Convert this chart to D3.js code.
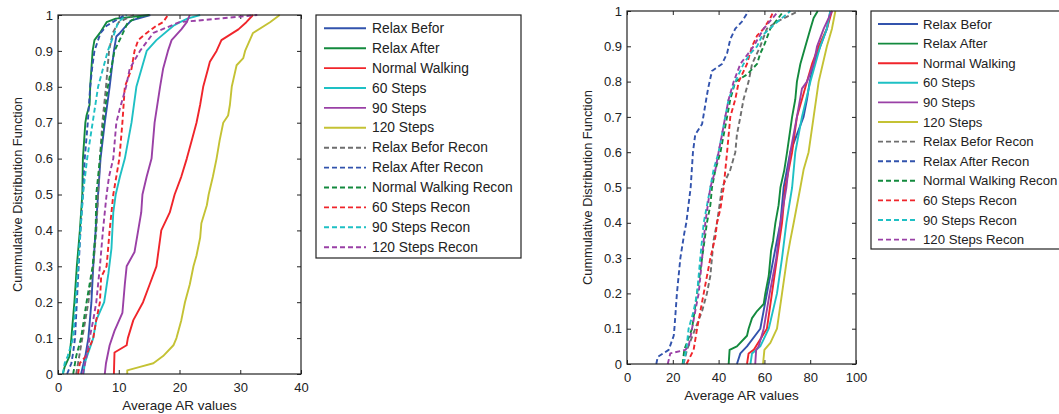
<!DOCTYPE html>
<html>
<head>
<meta charset="utf-8">
<script src="https://cdn.jsdelivr.net/npm/d3@7"></script>
<style>
  html, body { margin: 0; padding: 0; background: #fff; }
  svg { display: block; font-family: "Liberation Sans", Arial, sans-serif; }
  .tick text { font-size: 13px; fill: #222; }
  .tick line { stroke: #222; }
</style>
</head>
<body>
<svg id="fig" width="1059" height="414"></svg>
<script>
// Series names (legend order) and tick values
const seriesNames = [
  "Relax Befor", "Relax After", "Normal Walking", "60 Steps", "90 Steps", "120 Steps",
  "Relax Befor Recon", "Relax After Recon", "Normal Walking Recon",
  "60 Steps Recon", "90 Steps Recon", "120 Steps Recon"
];
const probTicks = [0, 0.1, 0.2, 0.3, 0.4, 0.5, 0.6, 0.7, 0.8, 0.9, 1];
const leftValueTicks = [0, 10, 20, 30, 40];
const rightValueTicks = [0, 20, 40, 60, 80, 100];

// Left panel: empirical CDFs, [average AR value, cumulative probability]
const leftRelaxBefor = [[3.8,0],[4.5,0.05],[5.0,0.1],[5.5,0.2],[5.8,0.3],[6.2,0.4],[6.6,0.5],[7.0,0.6],[7.7,0.7],[8.5,0.8],[9.2,0.9],[9.6,0.94],[10.2,0.95],[11.2,0.97],[12.1,0.985],[15.2,1]];
const leftRelaxAfter = [[0.8,0],[1.1,0.02],[1.9,0.05],[2.2,0.1],[2.7,0.2],[3.1,0.3],[3.6,0.4],[4.0,0.5],[4.1,0.6],[4.5,0.7],[4.7,0.72],[5.2,0.75],[5.3,0.8],[5.7,0.9],[6.0,0.93],[6.9,0.95],[8.0,0.98],[9.5,0.99],[15,1]];
const leftNormalWalking = [[9.2,0],[9.3,0.06],[11.3,0.08],[11.5,0.1],[12.4,0.15],[14.0,0.2],[15.1,0.25],[16.2,0.3],[16.6,0.35],[17.0,0.4],[18.4,0.45],[19.2,0.5],[20.3,0.55],[21.2,0.6],[22.0,0.65],[22.8,0.7],[23.4,0.75],[23.9,0.8],[24.7,0.85],[25.0,0.87],[26.1,0.9],[26.9,0.93],[29.7,0.96],[31.0,0.98],[32.1,1]];
const leftSteps60 = [[4.2,0],[4.4,0.03],[4.8,0.05],[5.8,0.1],[6.3,0.15],[7.6,0.2],[8.3,0.28],[8.8,0.35],[9.1,0.45],[9.5,0.5],[10.2,0.55],[11.0,0.6],[12.1,0.7],[12.9,0.8],[14.6,0.9],[16.2,0.93],[19.0,0.97],[20.1,0.98],[21.3,0.99],[23.4,1]];
const leftSteps90 = [[7.7,0],[7.9,0.03],[8.5,0.08],[9.3,0.12],[10.6,0.17],[11.0,0.25],[11.3,0.3],[12.6,0.34],[13.2,0.4],[13.7,0.45],[13.9,0.5],[14.6,0.55],[15.4,0.6],[15.9,0.7],[16.8,0.8],[17.3,0.85],[18.1,0.9],[18.7,0.93],[20.3,0.96],[21.2,0.98],[21.7,1]];
const leftSteps120 = [[11.4,0],[11.4,0.01],[13.5,0.02],[15.7,0.03],[17.3,0.05],[19.0,0.08],[19.5,0.1],[20.3,0.15],[20.9,0.2],[21.7,0.25],[22.3,0.3],[22.8,0.33],[23.4,0.38],[23.6,0.42],[24.5,0.47],[24.8,0.5],[25.5,0.55],[26.1,0.6],[26.6,0.65],[27.2,0.7],[28.0,0.72],[28.3,0.75],[28.6,0.8],[29.4,0.86],[30.5,0.88],[30.8,0.9],[32.1,0.95],[34.9,0.98],[36.5,1]];
const leftRelaxBeforRecon = [[3.0,0],[3.5,0.05],[4.0,0.1],[5.0,0.2],[5.8,0.3],[6.3,0.4],[6.6,0.5],[6.9,0.6],[7.3,0.7],[7.9,0.8],[8.4,0.9],[9.0,0.95],[10.0,0.98],[12.5,1]];
const leftRelaxAfterRecon = [[1.5,0],[2.2,0.03],[2.5,0.06],[2.8,0.1],[3.1,0.2],[3.4,0.3],[3.7,0.4],[4.1,0.5],[4.4,0.6],[4.9,0.7],[5.3,0.8],[5.6,0.85],[6.0,0.9],[7.0,0.95],[8.0,0.97],[11,1]];
const leftNormalWalkingRecon = [[2.5,0],[3.0,0.05],[3.8,0.1],[4.7,0.2],[5.7,0.3],[6.2,0.4],[6.3,0.5],[6.9,0.6],[7.5,0.7],[8.2,0.8],[9.3,0.9],[10.7,0.95],[11.5,0.98],[14.0,1]];
const leftSteps60Recon = [[3.3,0],[3.6,0.03],[4.6,0.05],[5.8,0.1],[6.3,0.15],[6.9,0.2],[7.1,0.27],[8.0,0.3],[8.5,0.4],[9.1,0.5],[10.1,0.6],[10.6,0.7],[11.0,0.8],[12.1,0.85],[12.6,0.9],[13.2,0.93],[14.6,0.95],[16.2,0.97],[17.3,0.98],[18.1,1]];
const leftSteps90Recon = [[0.8,0],[1.1,0.03],[1.6,0.05],[2.5,0.1],[2.9,0.2],[3.3,0.3],[3.7,0.4],[4.1,0.5],[4.8,0.6],[5.7,0.7],[6.6,0.8],[7.4,0.85],[8.2,0.9],[9.3,0.95],[9.9,0.98],[11.3,1]];
const leftSteps120Recon = [[4.1,0],[4.7,0.05],[5.2,0.1],[5.8,0.15],[6.3,0.2],[6.9,0.3],[7.4,0.4],[8.0,0.5],[8.4,0.55],[9.1,0.6],[9.6,0.7],[10.2,0.74],[11.2,0.8],[11.8,0.85],[13.5,0.9],[15.7,0.95],[20.0,0.98],[26.5,0.99],[32.8,1]];

// Right panel: empirical CDFs, [average AR value, cumulative probability]
const rightRelaxBefor = [[48.0,0],[49.5,0.03],[52.4,0.05],[58.2,0.1],[61.1,0.2],[64.0,0.3],[67.0,0.4],[68.4,0.5],[71.3,0.6],[77.1,0.7],[78.6,0.75],[79.8,0.8],[81.5,0.85],[84.4,0.9],[87.3,0.95],[88.8,1]];
const rightRelaxAfter = [[44.4,0],[44.8,0.04],[48.0,0.05],[52.4,0.08],[53.1,0.1],[54.6,0.13],[56.8,0.15],[59.7,0.17],[60.4,0.2],[61.9,0.25],[62.9,0.32],[63.8,0.35],[64.8,0.4],[66.2,0.45],[67.0,0.5],[68.7,0.55],[69.9,0.6],[72.1,0.7],[73.5,0.75],[74.2,0.8],[75.7,0.85],[77.9,0.9],[80.1,0.95],[81.5,0.98],[83.3,1]];
const rightNormalWalking = [[52.4,0],[53.1,0.03],[55.3,0.04],[61.1,0.1],[63.3,0.2],[65.5,0.3],[67.7,0.4],[69.1,0.5],[72.1,0.6],[74.2,0.7],[78.6,0.8],[80.8,0.85],[83.7,0.9],[87.3,0.95],[89.5,1]];
const rightSteps60 = [[53.9,0],[54.6,0.03],[58.2,0.05],[61.9,0.1],[65.5,0.2],[67.7,0.3],[69.6,0.4],[72.1,0.5],[73.5,0.6],[76.4,0.7],[80.1,0.8],[84.4,0.9],[87.3,0.95],[88.8,1]];
const rightSteps90 = [[56.0,0],[56.4,0.04],[57.5,0.05],[59.7,0.1],[62.3,0.2],[65.2,0.3],[67.0,0.4],[69.6,0.5],[71.3,0.6],[74.2,0.7],[76.4,0.78],[78.6,0.8],[81.5,0.85],[83.0,0.9],[85.9,0.95],[89.5,1]];
const rightSteps120 = [[59.4,0],[60.0,0.04],[62.6,0.06],[65.5,0.1],[67.7,0.2],[69.9,0.3],[71.3,0.35],[72.8,0.4],[75.7,0.5],[77.1,0.55],[79.3,0.6],[81.5,0.7],[83.7,0.8],[87.3,0.9],[89.5,0.95],[91.0,1]];
const rightRelaxBeforRecon = [[24.7,0],[26.2,0.04],[29.8,0.1],[32.8,0.15],[34.9,0.2],[36.4,0.25],[37.1,0.3],[37.8,0.35],[39.3,0.4],[41.5,0.5],[45.1,0.55],[47.3,0.6],[48.0,0.65],[49.5,0.7],[50.9,0.75],[53.1,0.8],[54.6,0.85],[58.2,0.9],[61.1,0.95],[65.5,0.97],[75.0,1]];
const rightRelaxAfterRecon = [[12.8,0],[13.4,0.02],[18.2,0.04],[20.4,0.08],[20.7,0.1],[21.8,0.2],[23.3,0.3],[25.0,0.37],[25.9,0.4],[27.8,0.5],[28.8,0.6],[29.8,0.65],[32.8,0.68],[34.6,0.75],[35.4,0.78],[37.1,0.83],[41.5,0.85],[43.7,0.88],[45.1,0.92],[47.3,0.95],[50.2,0.97],[53.1,1]];
const rightNormalWalkingRecon = [[24.3,0],[25.0,0.04],[28.4,0.1],[30.6,0.2],[32.8,0.3],[34.9,0.4],[36.4,0.45],[37.1,0.5],[38.6,0.55],[40.8,0.6],[43.7,0.7],[45.1,0.75],[47.3,0.8],[52.4,0.82],[56.8,0.85],[58.2,0.88],[59.7,0.9],[62.6,0.95],[68.4,1]];
const rightSteps60Recon = [[26.0,0],[29.1,0.04],[30.6,0.1],[33.5,0.2],[36.4,0.3],[38.6,0.36],[39.3,0.4],[40.8,0.44],[42.2,0.5],[43.7,0.6],[45.1,0.7],[47.3,0.75],[48.8,0.8],[52.4,0.85],[54.6,0.9],[56.8,0.93],[59.7,0.95],[62.6,0.98],[64.0,1]];
const rightSteps90Recon = [[24.5,0],[25.9,0.04],[26.9,0.1],[29.1,0.15],[30.6,0.2],[32.0,0.3],[33.5,0.4],[36.4,0.5],[37.8,0.55],[40.0,0.6],[42.9,0.7],[44.4,0.75],[47.3,0.8],[50.9,0.85],[53.9,0.88],[56.8,0.9],[59.0,0.93],[64.0,0.96],[71.3,1]];
const rightSteps120Recon = [[17.8,0],[18.9,0.03],[25.5,0.04],[26.9,0.05],[28.4,0.1],[29.8,0.15],[31.3,0.2],[32.8,0.3],[34.2,0.4],[36.4,0.5],[38.6,0.55],[40.0,0.6],[41.5,0.65],[42.9,0.7],[44.4,0.75],[46.6,0.8],[49.5,0.85],[55.3,0.9],[59.7,0.95],[66.2,1]];

const leftCurves = [leftRelaxBefor, leftRelaxAfter, leftNormalWalking, leftSteps60, leftSteps90, leftSteps120,
  leftRelaxBeforRecon, leftRelaxAfterRecon, leftNormalWalkingRecon, leftSteps60Recon, leftSteps90Recon, leftSteps120Recon];
const rightCurves = [rightRelaxBefor, rightRelaxAfter, rightNormalWalking, rightSteps60, rightSteps90, rightSteps120,
  rightRelaxBeforRecon, rightRelaxAfterRecon, rightNormalWalkingRecon, rightSteps60Recon, rightSteps90Recon, rightSteps120Recon];

// Line styles per series
const seriesColors = ["#3253ad", "#138a3e", "#f0252b", "#1ec0c4", "#9a40a6", "#c4c234",
  "#6e6e6e", "#3253ad", "#138a3e", "#f0252b", "#1ec0c4", "#9a40a6"];
const seriesDashed = [false, false, false, false, false, false, true, true, true, true, true, true];

const svg = d3.select("#fig");

function drawPanel(opts) {
  const { curves, xDomain, xTicks, left, right, top, bottom, legend } = opts;
  const x = d3.scaleLinear().domain(xDomain).range([left, right]);
  const y = d3.scaleLinear().domain([0, 1]).range([bottom, top]);
  const g = svg.append("g");

  const fmt = d => String(+d.toFixed(2));

  // bottom / left axes with inward ticks
  g.append("g").attr("transform", `translate(0,${bottom})`)
    .call(d3.axisBottom(x).tickValues(xTicks).tickSize(-4).tickSizeOuter(0).tickPadding(9).tickFormat(fmt))
    .call(a => a.select(".domain").remove());
  g.append("g").attr("transform", `translate(${left},0)`)
    .call(d3.axisLeft(y).tickValues(probTicks).tickSize(-4).tickSizeOuter(0).tickPadding(5).tickFormat(fmt))
    .call(a => a.select(".domain").remove());
  // top / right axes: ticks only
  g.append("g").attr("transform", `translate(0,${top})`)
    .call(d3.axisTop(x).tickValues(xTicks).tickSize(-4).tickSizeOuter(0).tickFormat(""))
    .call(a => a.select(".domain").remove());
  g.append("g").attr("transform", `translate(${right},0)`)
    .call(d3.axisRight(y).tickValues(probTicks).tickSize(-4).tickSizeOuter(0).tickFormat(""))
    .call(a => a.select(".domain").remove());

  g.selectAll(".tick text").attr("font-family", null).attr("font-size", null);

  // CDF curves
  const line = d3.line().x(d => x(d[0])).y(d => y(d[1]));
  g.append("g").selectAll("path").data(curves).join("path")
    .attr("d", line)
    .attr("fill", "none")
    .attr("stroke", (d, i) => seriesColors[i])
    .attr("stroke-width", 1.9)
    .attr("stroke-dasharray", (d, i) => seriesDashed[i] ? "5,3" : null)
    .attr("stroke-linejoin", "round");

  // axes box
  g.append("rect")
    .attr("x", left).attr("y", top)
    .attr("width", right - left).attr("height", bottom - top)
    .attr("fill", "none").attr("stroke", "#222").attr("stroke-width", 1.2);

  // axis titles
  g.append("text")
    .attr("x", (left + right) / 2).attr("y", opts.xLabelY)
    .attr("text-anchor", "middle").attr("font-size", 13.5).attr("fill", "#222")
    .text("Average AR values");
  g.append("text")
    .attr("transform", `translate(${opts.yLabelX},${(top + bottom) / 2}) rotate(-90)`)
    .attr("text-anchor", "middle").attr("font-size", 12.8).attr("fill", "#222")
    .text("Cummulative Distribution Function");

  // legend
  const lg = g.append("g");
  lg.append("rect")
    .attr("x", legend.x0).attr("y", legend.y0)
    .attr("width", legend.x1 - legend.x0).attr("height", legend.y1 - legend.y0)
    .attr("fill", "#fff").attr("stroke", "#222").attr("stroke-width", 1.2);
  const rows = lg.selectAll("g.row").data(seriesNames).join("g")
    .attr("transform", (d, i) => `translate(0,${legend.firstY + i * legend.step})`);
  rows.append("line")
    .attr("x1", legend.lineX0).attr("x2", legend.lineX1)
    .attr("y1", 0).attr("y2", 0)
    .attr("stroke", (d, i) => seriesColors[i])
    .attr("stroke-width", 1.9)
    .attr("stroke-dasharray", (d, i) => seriesDashed[i] ? "5,3" : null);
  rows.append("text")
    .attr("x", legend.textX).attr("y", 4.6)
    .attr("font-size", legend.fontSize).attr("fill", "#222")
    .text(d => d);
}

drawPanel({
  curves: leftCurves, xDomain: [0, 40], xTicks: leftValueTicks,
  left: 58, right: 301, top: 15, bottom: 374,
  xLabelY: 410, yLabelX: 22,
  legend: { x0: 316, y0: 15, x1: 521, y1: 258, lineX0: 324, lineX1: 366, textX: 372, firstY: 28.3, step: 19.9, fontSize: 13.8 }
});

drawPanel({
  curves: rightCurves, xDomain: [0, 100], xTicks: rightValueTicks,
  left: 627, right: 856, top: 11, bottom: 364,
  xLabelY: 400, yLabelX: 592,
  legend: { x0: 871, y0: 11, x1: 1064, y1: 249, lineX0: 878, lineX1: 918, textX: 923, firstY: 24, step: 19.6, fontSize: 13.2 }
});
</script>
</body>
</html>
